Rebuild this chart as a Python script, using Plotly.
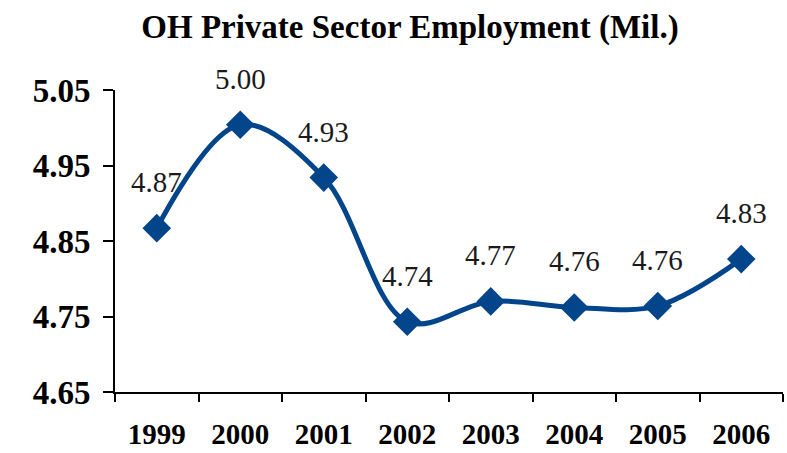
import plotly.graph_objects as go

years = ["1999", "2000", "2001", "2002", "2003", "2004", "2005", "2006"]
employment = [4.867, 5.004, 4.934, 4.743, 4.770, 4.762, 4.764, 4.826]
y_ticks = [4.65, 4.75, 4.85, 4.95, 5.05]

LINE = "#02458A"
FONT = "Liberation Serif"

fig = go.Figure()
fig.add_trace(go.Scatter(
    x=years, y=employment, mode="lines+markers",
    line=dict(color=LINE, width=5, shape="spline", smoothing=1),
    marker=dict(symbol="diamond", size=22, color=LINE),
    cliponaxis=False, hoverinfo="skip",
))

for i, v in enumerate(employment):
    fig.add_annotation(x=i, y=v, xref="x", yref="y", text=f"{v:.2f}",
                       showarrow=False, yshift=46, yanchor="middle",
                       font=dict(family=FONT, size=29, color="#1a1a1a"))

fig.update_layout(
    width=787, height=453,
    margin=dict(l=115, r=4, t=90, b=61, autoexpand=False),
    paper_bgcolor="white", plot_bgcolor="white",
    showlegend=False,
    title=dict(text="<b>OH Private Sector Employment (Mil.)</b>",
               x=410 / 787, xanchor="center", xref="container",
               y=1 - 26 / 453, yanchor="middle", yref="container",
               font=dict(family=FONT, size=33, color="black")),
    xaxis=dict(type="category", range=[-0.5, 7.5], tickson="boundaries",
               ticks="outside", ticklen=8, tickwidth=2, tickcolor="black",
               showline=True, linecolor="black", linewidth=2,
               showgrid=False, zeroline=False, ticklabelstandoff=15,
               automargin=False,
               tickfont=dict(family=FONT, size=29, color="black", weight="bold")),
    yaxis=dict(range=[4.65, 5.05], tickvals=y_ticks, tickformat=".2f",
               ticks="outside", ticklen=10, tickwidth=2, tickcolor="black",
               showline=True, linecolor="black", linewidth=2,
               showgrid=False, zeroline=False, ticklabelstandoff=6,
               automargin=False,
               tickfont=dict(family=FONT, size=33, color="black", weight="bold")),
)

fig.write_html("out.html", config={"displayModeBar": False},
               post_script="document.body.style.margin='0';document.body.style.overflow='hidden';")
